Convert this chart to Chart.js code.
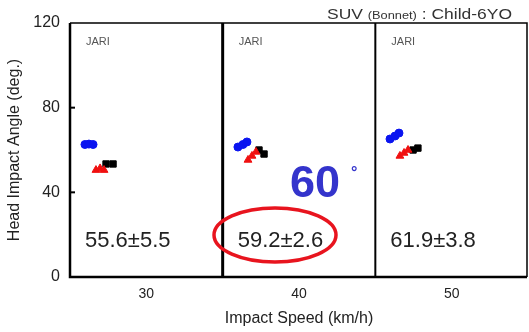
<!DOCTYPE html>
<html>
<head>
<meta charset="utf-8">
<script src="https://cdn.jsdelivr.net/npm/chart.js@4/dist/chart.umd.min.js"></script>
<style>
  html, body { margin: 0; padding: 0; background: #fff; }
  #wrap { width: 529px; height: 332px; }
</style>
</head>
<body>
<div id="wrap"><canvas id="chart" width="529" height="332"></canvas></div>
<script>
// impact speed panels (km/h) and their labels
const speeds = [30, 40, 50];
const panelEdges = [35, 45];
const angleTicks = [0, 40, 80, 120];
const meanLabels = ['55.6\u00b15.5', '59.2\u00b12.6', '61.9\u00b13.8'];

// head impact angle (x is position inside each panel)
const blueX = [25.98, 26.24, 26.51, 36.00, 36.33, 36.59, 45.96, 46.29, 46.55];
const blueY = [62.6, 62.8, 62.6, 61.4, 62.6, 63.8, 65.2, 66.6, 68.0];
const redX = [26.70, 26.97, 27.23, 36.66, 36.92, 37.18, 46.61, 46.88, 47.14];
const redY = [50.5, 51.3, 50.5, 55.3, 57.2, 59.1, 57.2, 58.6, 60.0];
const blackX = [27.36, 27.82, 37.38, 37.71, 47.47, 47.79];
const blackY = [53.4, 53.4, 60.0, 58.1, 60.0, 60.9];

const pts = (xs, ys) => xs.map((x, i) => ({ x, y: ys[i] }));
const FONT = '"Liberation Sans", Arial, sans-serif';

const overlay = {
  id: 'overlay',
  afterDraw(chart) {
    const ctx = chart.ctx;
    const { left, right, top, bottom } = chart.chartArea;
    const xs = chart.scales.x;
    const ys = chart.scales.y;
    ctx.save();
    ctx.strokeStyle = '#000';

    // frame
    ctx.lineWidth = 1.5;
    ctx.beginPath();
    ctx.moveTo(left, top); ctx.lineTo(right - 1, top); ctx.lineTo(right - 1, bottom);
    ctx.stroke();
    ctx.lineWidth = 2.5;
    ctx.beginPath();
    ctx.moveTo(left, top); ctx.lineTo(left, bottom); ctx.lineTo(right - 1, bottom);
    ctx.stroke();

    // panel dividers
    ctx.lineWidth = 3;
    let px = xs.getPixelForValue(panelEdges[0]);
    ctx.beginPath(); ctx.moveTo(px, top); ctx.lineTo(px, bottom); ctx.stroke();
    ctx.lineWidth = 2;
    px = xs.getPixelForValue(panelEdges[1]);
    ctx.beginPath(); ctx.moveTo(px, top); ctx.lineTo(px, bottom); ctx.stroke();

    // inner tick marks
    ctx.lineWidth = 2;
    [40, 80].forEach(v => {
      const py = ys.getPixelForValue(v);
      ctx.beginPath(); ctx.moveTo(left, py); ctx.lineTo(left + 5, py); ctx.stroke();
    });

    // panel texts
    const starts = [25, 35, 45];
    starts.forEach((s, i) => {
      const x0 = xs.getPixelForValue(s) + 16;
      ctx.fillStyle = '#555';
      ctx.font = '11px ' + FONT;
      ctx.textBaseline = 'middle';
      ctx.textAlign = 'left';
      ctx.fillText('JARI', x0, 42);
      ctx.fillStyle = '#222';
      ctx.font = '22px ' + FONT;
      ctx.fillText(meanLabels[i], x0 - 1, 241);
    });

    // red ellipse
    ctx.strokeStyle = '#e8141e';
    ctx.lineWidth = 3.5;
    ctx.beginPath();
    ctx.ellipse(275, 235, 61, 27, 0, 0, Math.PI * 2);
    ctx.stroke();

    // big 60 deg
    ctx.fillStyle = '#3434cc';
    ctx.font = 'bold 45px ' + FONT;
    ctx.textBaseline = 'alphabetic';
    ctx.textAlign = 'left';
    ctx.fillText('60', 290, 197);
    ctx.font = 'bold 16px ' + FONT;
    ctx.fillText('\u00b0', 351, 178);

    // title, mixed sizes, stretched to the width used in the picture
    ctx.fillStyle = '#333';
    const parts = [['SUV ', 15], ['(Bonnet)', 11], [' : Child-6YO', 15]];
    let w = 0;
    parts.forEach(([t, s]) => { ctx.font = s + 'px ' + FONT; w += ctx.measureText(t).width; });
    ctx.translate(327, 19);
    ctx.scale(185 / w, 1);
    let tx = 0;
    parts.forEach(([t, s]) => {
      ctx.font = s + 'px ' + FONT;
      ctx.fillText(t, tx, 0);
      tx += ctx.measureText(t).width;
    });
    ctx.restore();
  }
};

new Chart(document.getElementById('chart'), {
  type: 'scatter',
  data: {
    datasets: [
      { data: pts(blueX, blueY), backgroundColor: '#0a14f0', borderColor: '#0a14f0', pointStyle: 'circle', pointRadius: 4 },
      { data: pts(redX, redY), backgroundColor: '#f01010', borderColor: '#f01010', pointStyle: 'triangle', pointRadius: 4.5 },
      { data: pts(blackX, blackY), backgroundColor: '#000', borderColor: '#000', pointStyle: 'rect', pointRadius: 4.5 }
    ]
  },
  options: {
    responsive: false,
    animation: false,
    layout: { autoPadding: false, padding: { top: 23, right: 1, left: 0, bottom: 0 } },
    plugins: { legend: { display: false }, tooltip: { enabled: false } },
    scales: {
      x: {
        type: 'linear', min: 25, max: 55,
        afterBuildTicks: s => { s.ticks = speeds.map(v => ({ value: v })); },
        afterFit: s => { s.height = 55; },
        grid: { display: false, drawTicks: false },
        border: { display: false },
        ticks: { padding: 9, color: '#222', font: { size: 14, family: FONT } },
        title: { display: true, text: 'Impact Speed (km/h)', color: '#222', padding: { top: 5 },
          font: { size: 16, family: FONT } }
      },
      y: {
        min: 0, max: 120,
        afterBuildTicks: s => { s.ticks = angleTicks.map(v => ({ value: v })); },
        afterFit: s => { s.width = 70; },
        grid: { display: false, drawTicks: false },
        border: { display: false },
        ticks: { padding: 10, color: '#222', font: { size: 16, family: FONT } },
        title: { display: true, text: 'Head Impact Angle (deg.)', color: '#222', padding: { top: 5 },
          font: { size: 16, family: FONT } }
      }
    }
  },
  plugins: [overlay]
});
</script>
</body>
</html>
